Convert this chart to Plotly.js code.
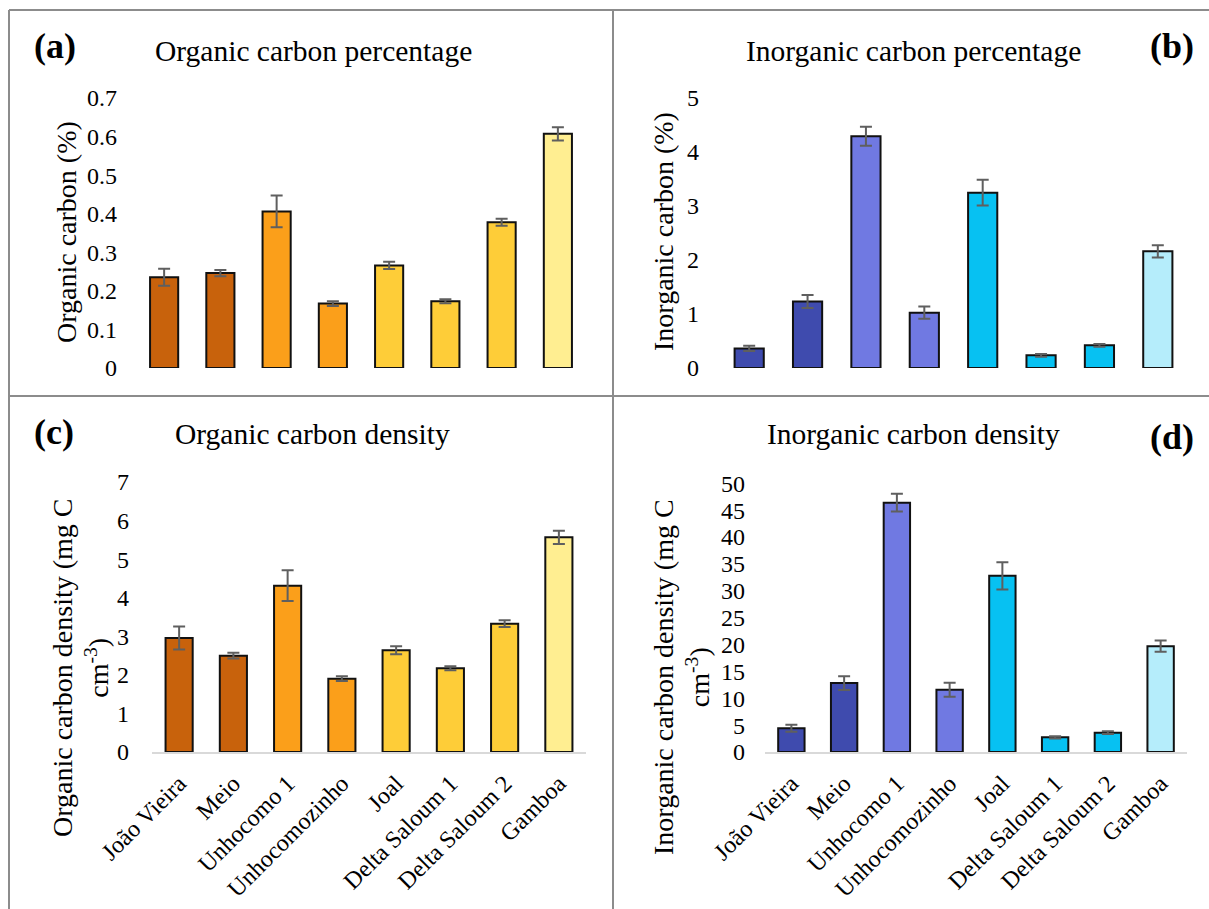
<!DOCTYPE html>
<html>
<head>
<meta charset="utf-8">
<script src="https://cdn.plot.ly/plotly-3.0.1.min.js"></script>
<style>html,body{margin:0;padding:0;background:#fff;} #chart{width:1209px;height:909px;}</style>
</head>
<body>
<div id="chart"></div>
<script>
const categories = ["João Vieira","Meio","Unhocomo 1","Unhocomozinho","Joal","Delta Saloum 1","Delta Saloum 2","Gamboa"];
const ocPercent = [0.235,0.246,0.406,0.167,0.266,0.173,0.378,0.607];
const ocPercentErr = [0.022,0.008,0.041,0.006,0.0095,0.005,0.009,0.017];
const icPercent = [0.363,1.233,4.29,1.024,3.247,0.234,0.419,2.16];
const icPercentErr = [0.05,0.12,0.176,0.114,0.24,0.025,0.025,0.114];
const ocDensity = [2.956,2.498,4.313,1.901,2.636,2.169,3.328,5.566];
const ocDensityErr = [0.298,0.073,0.398,0.06,0.104,0.052,0.086,0.173];
const icDensity = [4.4,12.83,46.4,11.59,32.78,2.73,3.59,19.7];
const icDensityErr = [0.65,1.27,1.67,1.3,2.54,0.22,0.25,1.05];
const orangeColors = ["#C8620C","#C8620C","#FB9F1A","#FB9F1A","#FECD38","#FECD38","#FECD38","#FFEE91"];
const blueColors = ["#3F4BAE","#3F4BAE","#7079E2","#7079E2","#07C1F2","#07C1F2","#07C1F2","#B5EDFB"];

const W = 1209, H = 909;
const px = x => x / W;
const py = y => 1 - y / H;
const FONT = "Liberation Serif, Times New Roman, serif";

function barTrace(y, err, colors, xa, ya) {
  return {
    type: "bar", x: categories, y: y, xaxis: xa, yaxis: ya,
    marker: {color: colors, line: {color: "#111111", width: 2}},
    error_y: {type: "data", array: err, visible: true, color: "#5F5F5F", thickness: 2, width: 6},
    hoverinfo: "x+y", showlegend: false
  };
}

const data = [
  barTrace(ocPercent, ocPercentErr, orangeColors, "x", "y"),
  barTrace(icPercent, icPercentErr, blueColors, "x2", "y2"),
  barTrace(ocDensity, ocDensityErr, orangeColors, "x3", "y3"),
  barTrace(icDensity, icDensityErr, blueColors, "x4", "y4")
];

function xAx(dom, anchor, showLabels) {
  return {
    domain: dom, anchor: anchor, type: "category",
    showgrid: false, zeroline: false,
    showline: showLabels, linecolor: "#D9D9D9", linewidth: 2,
    ticks: "", showticklabels: showLabels, tickangle: -45,
    ticklabelstandoff: 6,
    tickfont: {family: FONT, size: 24, color: "#000"}
  };
}
function yAx(dom, anchor, range, dtick, standoff) {
  return {
    domain: dom, anchor: anchor, range: range, dtick: dtick, tick0: 0,
    showgrid: false, zeroline: false, showline: false, ticks: "",
    ticklabelstandoff: standoff,
    tickfont: {family: FONT, size: 24, color: "#000"}
  };
}

const shapes = [
  [9,10,1209,10],[9,10,9,909],[613,10,613,909],[9,396,1209,396]
].map(s => ({type: "line", xref: "paper", yref: "paper",
  x0: px(s[0]), y0: py(s[1]), x1: px(s[2]), y1: py(s[3]),
  line: {color: "#8C8C8C", width: 2}}));

function ann(text, x, y, size, bold, angle) {
  return {text: bold ? "<b>" + text + "</b>" : text, xref: "paper", yref: "paper",
    x: px(x), y: py(y), xanchor: "center", yanchor: "middle", showarrow: false,
    textangle: angle || 0, font: {family: FONT, size: size, color: "#000"}};
}

const annotations = [
  ann("(a)", 55, 46, 36, true),
  ann("(b)", 1172, 46, 36, true),
  ann("(c)", 54, 432, 36, true),
  ann("(d)", 1172, 437, 36, true),
  ann("Organic carbon percentage", 313, 51, 29.5),
  ann("Inorganic carbon percentage", 913, 51, 29.5),
  ann("Organic carbon density", 312, 434, 29.5),
  ann("Inorganic carbon density", 913, 434, 29.5),
  ann("Organic carbon (%)", 66, 232, 28, false, -90),
  ann("Inorganic carbon (%)", 663, 232, 28, false, -90),
  ann("Organic carbon density (mg C<br>cm<sup>-3</sup>)", 80, 668, 28, false, -90),
  ann("Inorganic carbon density (mg C<br>cm<sup>-3</sup>)", 681, 677, 28, false, -90)
];

const layout = {
  width: W, height: H,
  margin: {l: 0, r: 0, t: 0, b: 0, pad: 0},
  paper_bgcolor: "#fff", plot_bgcolor: "rgba(0,0,0,0)",
  bargap: 0.5, showlegend: false,
  font: {family: FONT, color: "#000"},
  xaxis: xAx([px(136), px(586)], "y", false),
  yaxis: yAx([py(368), py(98)], "x", [0, 0.7], 0.1, 18),
  xaxis2: xAx([px(720), px(1187)], "y2", false),
  yaxis2: yAx([py(368), py(98)], "x2", [0, 5], 1, 20),
  xaxis3: xAx([px(152), px(586)], "y3", true),
  yaxis3: yAx([py(752), py(482)], "x3", [0, 7], 1, 22),
  xaxis4: xAx([px(765), px(1187)], "y4", true),
  yaxis4: yAx([py(752), py(483.3)], "x4", [0, 50], 5, 19),
  shapes: shapes,
  annotations: annotations
};

Plotly.newPlot("chart", data, layout, {displayModeBar: false, staticPlot: true});
</script>
</body>
</html>
